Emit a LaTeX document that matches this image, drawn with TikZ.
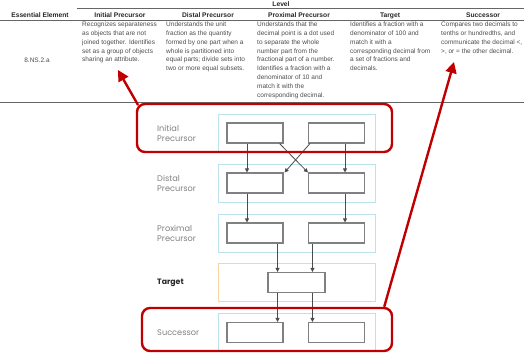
\documentclass[tikz,border=0pt]{standalone}
\usepackage{fontspec}
\setmainfont{Liberation Sans}
\newfontfamily\gothic{Poppins}
\usetikzlibrary{arrows.meta}
\definecolor{hlred}{RGB}{192,0,0}
\definecolor{rowblue}{RGB}{188,226,236}
\definecolor{rowgold}{RGB}{246,214,160}
\begin{document}
\begin{tikzpicture}[x=1pt,y=-1pt,
 hd/.style={font=\fontsize{6.7}{8}\selectfont\bfseries,text=black!85,inner sep=0pt,anchor=base},
 cell/.style={font=\fontsize{6.5}{8.8}\selectfont,text=black!70,inner sep=0pt,anchor=north west,align=left},
 rule/.style={black!60,line width=.7pt},
 row/.style={draw=#1,line width=.9pt,minimum width=157pt,minimum height=38pt,inner sep=0pt},
 bx/.style={draw=black!50,line width=1.1pt,fill=white,minimum width=56pt,minimum height=20pt,inner sep=0pt},
 lbl/.style={font=\gothic\fontsize{8.2}{10}\selectfont,text=black!50,anchor=west,align=left,inner sep=0pt},
 arr/.style={black!70,line width=.8pt,-{Triangle[length=4pt,width=4pt]}},
 hl/.style={draw=hlred,line width=2.4pt,rounded corners=8pt,inner sep=0pt},
 hlarr/.style={hlred,line width=2.4pt,-{Triangle[length=11pt,width=11pt]}}]
\useasboundingbox (0,0) rectangle (524,353);
% table
\node[hd] (lvl) at (281,6.5) {Level};
\draw[rule] (77,8.8)--(524,8.8);
\node[hd] (h-ee) at (40,17.5) {Essential Element};\node[hd] (h-ip) at (120,17.5) {Initial Precursor};
\node[hd] (h-dp) at (208,17.5) {Distal Precursor};\node[hd] (h-pp) at (299,17.5) {Proximal Precursor};
\node[hd] (h-tg) at (390,17.5) {Target};\node[hd] (h-sc) at (483,17.5) {Successor};
\draw[rule] (0,20)--(524,20); \draw[rule] (0,102)--(524,102);
\node[cell,anchor=center] (c-ee) at (37,60) {8.NS.2.a};
\node[cell] (c-ip) at (82,21.8) {Recognizes separateness\\as objects that are not\\joined together. Identifies\\set as a group of objects\\sharing an attribute.};
\node[cell] (c-dp) at (166,21.8) {Understands the unit\\fraction as the quantity\\formed by one part when a\\whole is partitioned into\\equal parts; divide sets into\\two or more equal subsets.};
\node[cell] (c-pp) at (257,21.8) {Understands that the\\decimal point is a dot used\\to separate the whole\\number part from the\\fractional part of a number.\\Identifies a fraction with a\\denominator of 10 and\\match it with the\\corresponding decimal.};
\node[cell] (c-tg) at (350,21.8) {Identifies a fraction with a\\denominator of 100 and\\match it with a\\corresponding decimal from\\a set of fractions and\\decimals.};
\node[cell] (c-sc) at (441,21.8) {Compares two decimals to\\tenths or hundredths, and\\communicate the decimal <,\\>, or = the other decimal.};
% level diagram
\foreach \n/\y in {ip/133,dp/183,pp/233,sc/332.5}{
 \node[row=rowblue] (\n-row) at (296.5,\y) {};
 \node[bx] (\n-l) at (255,\y) {};\node[bx] (\n-r) at (336.5,\y) {};}
\node[row=rowgold] (tg-row) at (296.5,282.5) {};
\node[bx,minimum width=57pt] (tg) at (296.5,282.5) {};
\node[lbl] (ip-lbl) at (157,133) {Initial\\Precursor};
\node[lbl] (dp-lbl) at (157,183) {Distal\\Precursor};
\node[lbl] (pp-lbl) at (157,233) {Proximal\\Precursor};
\node[lbl,font=\gothic\bfseries\fontsize{7.8}{10}\selectfont,text=black!85] (tg-lbl) at (157,282.5) {Target};
\node[lbl] (sc-lbl) at (157,332.5) {Successor};
\draw[arr] ([xshift=-8pt]ip-l.south)--([xshift=-8pt]dp-l.north);
\draw[arr] ([xshift=8.5pt]ip-r.south)--([xshift=8.5pt]dp-r.north);
\draw[arr] ([xshift=-4pt]ip-l.south east)--(dp-r.north west);
\draw[arr] ([xshift=2pt]ip-r.south west)--([xshift=1pt]dp-l.north east);
\draw[arr] ([xshift=-8pt]dp-l.south)--([xshift=-8pt]pp-l.north);
\draw[arr] ([xshift=8.5pt]dp-r.south)--([xshift=8.5pt]pp-r.north);
\coordinate (xa) at ([xshift=-6pt]pp-l.south east);\coordinate (xb) at ([xshift=4.5pt]pp-r.south west);
\draw[arr] (xa)--(tg.north -| xa); \draw[arr] (xb)--(tg.north -| xb);
\draw[arr] (tg.south -| xa)--(sc-l.north -| xa); \draw[arr] (tg.south -| xb)--(sc-r.north -| xb);
% highlights
\node[hl,minimum width=255pt,minimum height=48pt] (hl-top) at (264.5,128) {};
\node[hl,minimum width=250pt,minimum height=43pt] (hl-bot) at (267,329.5) {};
\coordinate (tip-ip) at (118,70);\coordinate (tip-sc) at (454,62);
\draw[hlarr] ([shift={(2.3pt,-2.3pt)}]hl-top.north west)--(tip-ip);
\draw[hlarr] ([xshift=-9pt]hl-bot.north east)--(tip-sc);
\end{tikzpicture}
\end{document}
